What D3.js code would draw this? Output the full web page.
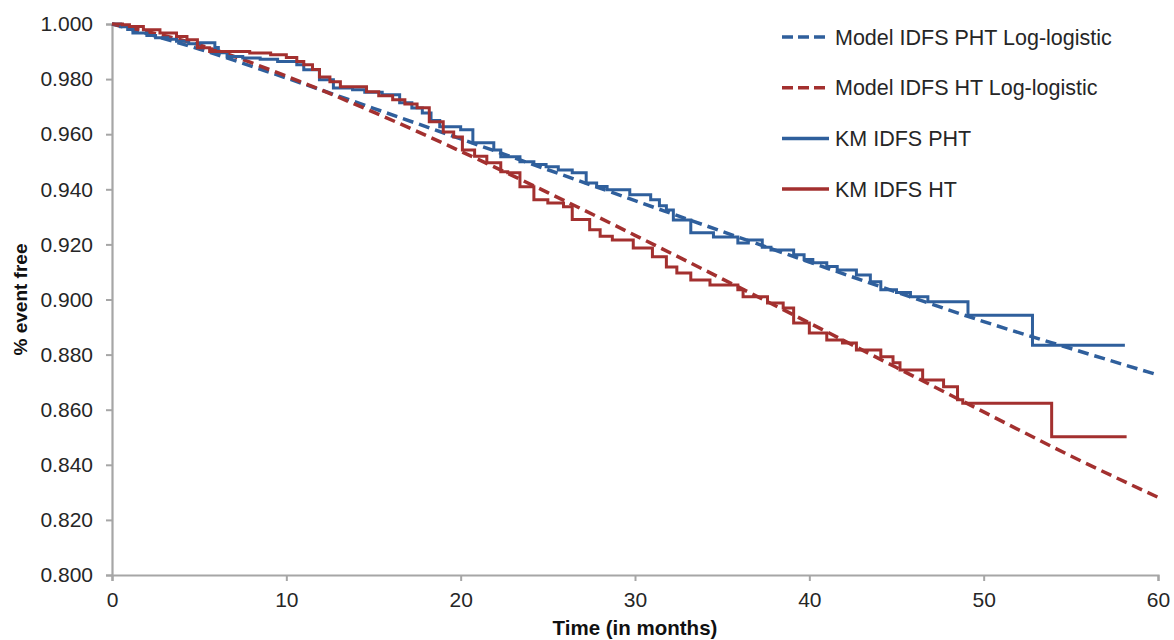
<!DOCTYPE html>
<html>
<head>
<meta charset="utf-8">
<script src="https://cdn.jsdelivr.net/npm/d3@7"></script>
<style>
  html, body { margin: 0; padding: 0; background: #fff; }
  svg { display: block; font-family: Arial, "Liberation Sans", sans-serif; }
</style>
</head>
<body>
<svg id="chart" width="1174" height="640"></svg>
<script>
// ---- Data ----
const xTicks = [0, 10, 20, 30, 40, 50, 60];
const yTicks = [0.800, 0.820, 0.840, 0.860, 0.880, 0.900, 0.920, 0.940, 0.960, 0.980, 1.000];

const seriesNames = ["Model IDFS PHT Log-logistic", "Model IDFS HT Log-logistic", "KM IDFS PHT", "KM IDFS HT"];

// Model (log-logistic) curves, months -> survival
const modelMonths = [0, 5, 10, 15, 20, 25, 30, 35, 40, 45, 50, 55, 60];
const modelPHT = [1.000, 0.9909, 0.9804, 0.9694, 0.9583, 0.9471, 0.9359, 0.9247, 0.9136, 0.9027, 0.8920, 0.8822, 0.8726];
const modelHT  = [1.000, 0.9924, 0.9811, 0.9680, 0.9538, 0.9388, 0.9233, 0.9075, 0.8915, 0.8753, 0.8592, 0.8432, 0.8282];

// Kaplan-Meier step curves: [month, survival]
const kmPHT = [[0,1.000],[0.5,0.999],[0.9,0.998],[1.2,0.9967],[2.0,0.9958],[2.5,0.995],[3.2,0.9945],[3.7,0.9937],[4.4,0.9928],[5.0,0.9932],[5.9,0.9915],[6.1,0.9896],[6.6,0.9882],[7.5,0.9877],[8.5,0.9872],[9.5,0.9864],[10.6,0.9852],[11.0,0.9834],[11.9,0.9798],[12.7,0.9768],[13.8,0.9761],[14.5,0.9752],[15.5,0.9743],[16.5,0.9714],[17.2,0.9695],[17.8,0.9677],[18.3,0.965],[18.8,0.9627],[20.0,0.9616],[20.7,0.9569],[21.9,0.9543],[22.3,0.9518],[23.4,0.950],[24.2,0.949],[24.9,0.9482],[25.6,0.947],[26.4,0.946],[27.2,0.9423],[27.8,0.941],[28.4,0.9398],[29.7,0.938],[30.9,0.9362],[31.4,0.934],[31.8,0.9325],[32.2,0.9289],[33.2,0.9242],[34.5,0.9227],[35.9,0.9205],[36.5,0.9216],[37.3,0.919],[37.8,0.918],[39.1,0.9162],[39.7,0.9145],[40.2,0.9133],[41.0,0.912],[41.6,0.9107],[42.7,0.9089],[43.5,0.9064],[44.1,0.9035],[45.0,0.9025],[45.8,0.901],[46.8,0.8992],[49.1,0.8943],[52.8,0.8834],[58.1,0.8834]];
const kmHT = [[0,1.000],[0.6,0.9997],[1.0,0.9991],[1.8,0.9979],[2.75,0.9967],[3.7,0.9955],[4.3,0.9943],[4.9,0.9914],[5.6,0.990],[7.9,0.9895],[9.1,0.9888],[10.0,0.9878],[10.6,0.9864],[11.0,0.9852],[11.5,0.9835],[11.9,0.9808],[12.5,0.979],[13.1,0.9772],[14.6,0.9754],[15.3,0.974],[16.1,0.9725],[16.8,0.971],[17.5,0.9696],[18.2,0.9645],[19.0,0.9608],[19.6,0.959],[20.1,0.9543],[20.8,0.952],[21.5,0.9496],[22.3,0.9464],[22.7,0.946],[23.4,0.9409],[24.2,0.9362],[25.0,0.935],[25.9,0.9337],[26.4,0.929],[27.4,0.9253],[28.0,0.923],[28.7,0.9216],[29.9,0.9187],[31.0,0.9155],[31.8,0.9118],[32.4,0.9096],[33.2,0.9071],[34.3,0.9053],[35.9,0.9035],[36.2,0.901],[37.6,0.8987],[38.5,0.8969],[39.1,0.8915],[40.0,0.8878],[41.0,0.8853],[41.9,0.8842],[42.7,0.8817],[44.1,0.8792],[44.8,0.877],[45.2,0.8744],[46.5,0.8708],[47.7,0.8683],[48.5,0.8636],[48.8,0.8623],[53.9,0.8502],[58.2,0.8502]];

// ---- Layout / style ----
const BLUE = "#2f5f9c";
const RED = "#a3302f";
const AXIS = "#a6a6a6";
const M = { left: 112, right: 1158, top: 24, bottom: 575 };

const svg = d3.select("#chart");
const x = d3.scaleLinear().domain([0, 60]).range([M.left, M.right]);
const y = d3.scaleLinear().domain([0.8, 1.0]).range([M.bottom, M.top]);

// Axes
const yAxis = d3.axisLeft(y).tickValues(yTicks).tickFormat(d3.format(".3f")).tickSize(6).tickPadding(13);
const xAxis = d3.axisBottom(x).tickValues(xTicks).tickFormat(d3.format("d")).tickSize(6).tickPadding(8);

const gy = svg.append("g").attr("transform", `translate(${M.left},0)`).call(yAxis);
const gx = svg.append("g").attr("transform", `translate(0,${M.bottom})`).call(xAxis);
[gx, gy].forEach(g => {
  g.select(".domain").attr("stroke", AXIS).attr("stroke-width", 2.2);
  g.selectAll(".tick line").attr("stroke", AXIS).attr("stroke-width", 2);
  g.selectAll(".tick text").attr("fill", "#262626").style("font-size", "21px")
    .style("font-family", "Arial, 'Liberation Sans', sans-serif");
});
gx.selectAll(".tick text").attr("dy", "0.85em");

// Axis titles
svg.append("text")
  .attr("x", (M.left + M.right) / 2).attr("y", 635)
  .attr("text-anchor", "middle")
  .style("font-size", "20.5px").style("font-weight", "bold").attr("fill", "#111")
  .text("Time (in months)");
svg.append("text")
  .attr("transform", `translate(27,${(M.top + M.bottom) / 2}) rotate(-90)`)
  .attr("text-anchor", "middle")
  .style("font-size", "19px").style("font-weight", "bold").attr("fill", "#111")
  .text("% event free");

// Lines
const modelLine = d3.line().x(d => x(d[0])).y(d => y(d[1])).curve(d3.curveMonotoneX);
const stepLine = d3.line().x(d => x(d[0])).y(d => y(d[1])).curve(d3.curveStepAfter);

const plot = svg.append("g");
plot.append("path").datum(modelMonths.map((m, i) => [m, modelPHT[i]]))
  .attr("d", modelLine).attr("fill", "none").attr("stroke", BLUE)
  .attr("stroke-width", 3.5).attr("stroke-dasharray", "11,6");
plot.append("path").datum(modelMonths.map((m, i) => [m, modelHT[i]]))
  .attr("d", modelLine).attr("fill", "none").attr("stroke", RED)
  .attr("stroke-width", 3.5).attr("stroke-dasharray", "11,6");
plot.append("path").datum(kmPHT)
  .attr("d", stepLine).attr("fill", "none").attr("stroke", BLUE)
  .attr("stroke-width", 3);
plot.append("path").datum(kmHT)
  .attr("d", stepLine).attr("fill", "none").attr("stroke", RED)
  .attr("stroke-width", 3);

// Legend
const legendItems = [
  { name: seriesNames[0], color: BLUE, dash: "11,5" },
  { name: seriesNames[1], color: RED, dash: "11,5" },
  { name: seriesNames[2], color: BLUE, dash: null },
  { name: seriesNames[3], color: RED, dash: null }
];
const legend = svg.append("g");
legendItems.forEach((it, i) => {
  const ly = 37 + i * 50.7;
  legend.append("line").attr("x1", 782).attr("x2", 829).attr("y1", ly).attr("y2", ly)
    .attr("stroke", it.color).attr("stroke-width", 3.5)
    .attr("stroke-dasharray", it.dash);
  legend.append("text").attr("x", 835).attr("y", ly).attr("dy", "0.36em")
    .style("font-size", "21.5px").attr("fill", "#262626").text(it.name);
});
</script>
</body>
</html>
